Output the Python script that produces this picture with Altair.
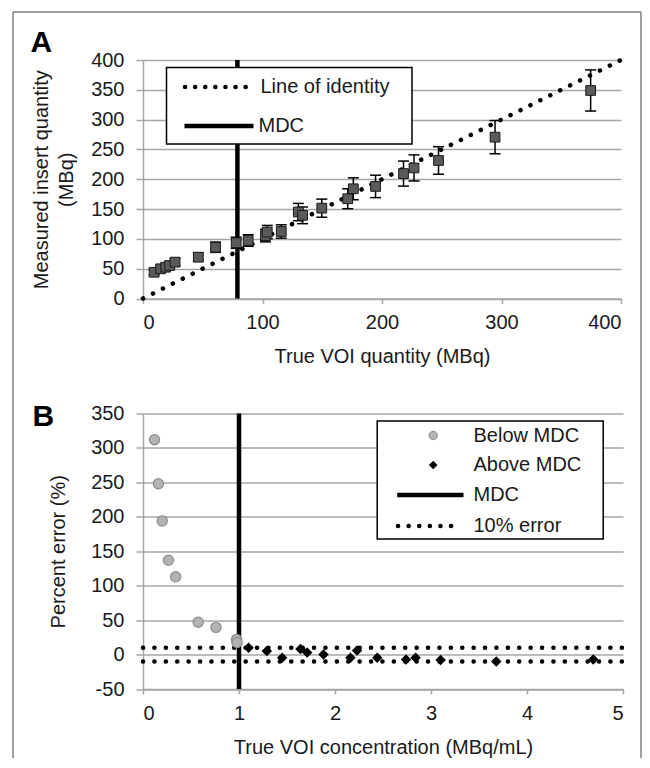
import altair as alt
import pandas as pd

# ---------------- Panel A data ----------------
a_true = [9.3, 14.8, 19.0, 22.3, 26.8, 46.3, 60.7, 78.0, 88.0, 102.5, 104.0, 115.7,
          130.0, 133.5, 149.6, 171.3, 176.0, 194.6, 218.0, 226.8, 247.3, 294.6, 374.6]
a_meas = [44, 49.8, 52.5, 55.4, 61, 69.3, 86, 93.5, 97.3, 105.5, 111.5, 112.4,
          145, 139.5, 151.5, 167.3, 184, 188, 209.5, 219, 231.5, 270.6, 348.9]
a_err = [4.4, 5, 5.2, 5.5, 6.1, 6.9, 8.6, 9.3, 9.7, 10.5, 11.1, 11.2,
         14.5, 14, 15.2, 16.7, 18.4, 18.8, 21, 21.9, 23.1, 27.9, 34.5]
identity_pts = [0, 400]
mdc_a = [79]
a_x_ticks = [0, 100, 200, 300, 400]
a_y_ticks = [0, 50, 100, 150, 200, 250, 300, 350, 400]

# ---------------- Panel B data ----------------
below_x = [0.12, 0.16, 0.20, 0.265, 0.34, 0.575, 0.76, 0.975, 0.98]
below_y = [312, 248, 194, 137, 113, 47, 39.5, 22, 17.5]
above_x = [1.10, 1.29, 1.45, 1.64, 1.71, 1.88, 2.16, 2.23, 2.44, 2.74, 2.84, 3.10, 3.68, 4.69]
above_y = [10, 5, -4.5, 8, 3, 0, -4.5, 6, -4.5, -7, -4.5, -8, -10, -7]
mdc_b = [1]
err_lines = [10, -10]
b_x_ticks = [0, 1, 2, 3, 4, 5]
b_y_ticks = [-50, 0, 50, 100, 150, 200, 250, 300, 350]

FONT = "Liberation Sans"
FS = 20
GRID = "#a6a6a6"
WA, HA = 478, 238.5
WB, HB = 480, 275.5
LBL = "'' + datum.value"

one = pd.DataFrame({"d": [0]})

# ================= Panel A =================
scAx = alt.Scale(domain=[0, 400], nice=False)
scAy = alt.Scale(domain=[0, 400], nice=False)
axAx = alt.Axis(values=a_x_ticks, grid=False, labelExpr=LBL,
                title="True VOI quantity (MBq)", titlePadding=14)
axAy = alt.Axis(values=a_y_ticks, grid=True, labelExpr=LBL,
                title=["Measured insert quantity", "(MBq)"],
                titleLineHeight=25, titlePadding=14)


def XA(f):
    return alt.X(f, scale=scAx, axis=axAx)


def YA(f):
    return alt.Y(f, scale=scAy, axis=axAy)


ident_df = pd.DataFrame({"x": identity_pts, "y": identity_pts})
identity = alt.Chart(ident_df).mark_line(
    color="black", strokeWidth=4.5, strokeDash=[0.1, 11], strokeCap="round"
).encode(x=XA("x:Q"), y=YA("y:Q"))

mdcA = alt.Chart(pd.DataFrame({"x": mdc_a})).mark_rule(
    color="black", strokeWidth=4.5).encode(x=XA("x:Q"))

a_df = pd.DataFrame({"x": a_true, "y": a_meas, "e": a_err})
a_df["lo"] = a_df["y"] - a_df["e"]
a_df["hi"] = a_df["y"] + a_df["e"]
a_df["c1"] = a_df["x"] - 4.6
a_df["c2"] = a_df["x"] + 4.6

ebar = alt.Chart(a_df).mark_rule(color="black", strokeWidth=1.5).encode(
    x=XA("x:Q"), y=YA("lo:Q"), y2="hi:Q")
cap_lo = alt.Chart(a_df).mark_rule(color="black", strokeWidth=1.5).encode(
    x=XA("c1:Q"), x2="c2:Q", y=YA("lo:Q"))
cap_hi = alt.Chart(a_df).mark_rule(color="black", strokeWidth=1.5).encode(
    x=XA("c1:Q"), x2="c2:Q", y=YA("hi:Q"))

squares = alt.Chart(a_df).mark_square(
    size=95, color="#5a5a5a", stroke="#1a1a1a", strokeWidth=1, opacity=1
).encode(x=XA("x:Q"), y=YA("y:Q"))

# legend A
legA_box = alt.Chart(one).mark_rect(fill="white", stroke="black", strokeWidth=1.5).encode(
    x=alt.value(23.5), x2=alt.value(269), y=alt.value(7.5), y2=alt.value(84))
legA_dot = alt.Chart(one).mark_rule(color="black", strokeWidth=4.5, strokeDash=[0.1, 10],
                                    strokeCap="round").encode(
    x=alt.value(42), x2=alt.value(103), y=alt.value(27), y2=alt.value(27))
legA_line = alt.Chart(one).mark_rule(color="black", strokeWidth=4.5).encode(
    x=alt.value(41.5), x2=alt.value(110.5), y=alt.value(66), y2=alt.value(66))
legA_t1 = alt.Chart(one).mark_text(align="left", baseline="middle", font=FONT, fontSize=FS,
                                   color="#1a1a1a", text="Line of identity").encode(
    x=alt.value(117.5), y=alt.value(27))
legA_t2 = alt.Chart(one).mark_text(align="left", baseline="middle", font=FONT, fontSize=FS,
                                   color="#1a1a1a", text="MDC").encode(
    x=alt.value(115.5), y=alt.value(66))

labA = alt.Chart(one).mark_text(align="left", baseline="alphabetic", font=FONT, fontSize=30,
                                fontWeight="bold", color="black", text="A").encode(
    x=alt.value(-112.5), y=alt.value(-8))

# outer frame (left, top, right edges)
FR_L, FR_R, FR_T, FR_B = -130, 498, -48, 698
fr_style = dict(color="#808080", strokeWidth=1.5)
frame_l = alt.Chart(one).mark_rule(**fr_style).encode(
    x=alt.value(FR_L), y=alt.value(FR_T), y2=alt.value(FR_B))
frame_r = alt.Chart(one).mark_rule(**fr_style).encode(
    x=alt.value(FR_R), y=alt.value(FR_T), y2=alt.value(FR_B))
frame_t = alt.Chart(one).mark_rule(**fr_style).encode(
    x=alt.value(FR_L), x2=alt.value(FR_R), y=alt.value(FR_T))

panelA = alt.layer(
    frame_l, frame_r, frame_t, identity, mdcA, ebar, cap_lo, cap_hi, squares,
    legA_box, legA_dot, legA_line, legA_t1, legA_t2, labA
).properties(width=WA, height=HA)

# ================= Panel B =================
scBx = alt.Scale(domain=[0, 5], nice=False)
scBy = alt.Scale(domain=[-50, 350], nice=False)
axBx = alt.Axis(values=b_x_ticks, grid=False, labelExpr=LBL,
                title="True VOI concentration (MBq/mL)", titlePadding=14)
axBy = alt.Axis(values=b_y_ticks, grid=True, labelExpr=LBL,
                title="Percent error (%)", titlePadding=22)


def XB(f):
    return alt.X(f, scale=scBx, axis=axBx)


def YB(f):
    return alt.Y(f, scale=scBy, axis=axBy)


err_df = pd.DataFrame({
    "x": [b_x_ticks[0], b_x_ticks[-1], b_x_ticks[0], b_x_ticks[-1]],
    "y": [err_lines[0], err_lines[0], err_lines[1], err_lines[1]],
    "g": ["p", "p", "m", "m"],
})
errl = alt.Chart(err_df).mark_line(
    color="black", strokeWidth=4.5, strokeDash=[0.1, 11.3], strokeCap="round"
).encode(x=XB("x:Q"), y=YB("y:Q"), detail="g:N")

mdcB = alt.Chart(pd.DataFrame({"x": mdc_b})).mark_rule(
    color="black", strokeWidth=4.5).encode(x=XB("x:Q"))

below = alt.Chart(pd.DataFrame({"x": below_x, "y": below_y})).mark_circle(
    size=105, color="#b3b3b3", stroke="#8c8c8c", strokeWidth=1.2, opacity=1
).encode(x=XB("x:Q"), y=YB("y:Q"))

above = alt.Chart(pd.DataFrame({"x": above_x, "y": above_y})).mark_point(
    shape="diamond", size=110, filled=True, color="black", opacity=1
).encode(x=XB("x:Q"), y=YB("y:Q"))

legB_box = alt.Chart(one).mark_rect(fill="white", stroke="black", strokeWidth=1.5).encode(
    x=alt.value(234.2), x2=alt.value(460.2), y=alt.value(7.5), y2=alt.value(125.5))
legB_c = alt.Chart(one).mark_point(shape="circle", size=70, filled=True, color="#b3b3b3",
                                   stroke="#8c8c8c", strokeWidth=1, opacity=1).encode(
    x=alt.value(290.2), y=alt.value(22))
legB_d = alt.Chart(one).mark_point(shape="diamond", size=75, filled=True, color="black",
                                   opacity=1).encode(
    x=alt.value(290.2), y=alt.value(51.5))
legB_line = alt.Chart(one).mark_rule(color="black", strokeWidth=4.5).encode(
    x=alt.value(254.2), x2=alt.value(320.5), y=alt.value(81.5), y2=alt.value(81.5))
legB_dot = alt.Chart(one).mark_rule(color="black", strokeWidth=4.5, strokeDash=[0.1, 10.5],
                                    strokeCap="round").encode(
    x=alt.value(255), x2=alt.value(318), y=alt.value(112.5), y2=alt.value(112.5))
legB_texts = [
    ("Below MDC", 22), ("Above MDC", 51.5), ("MDC", 81.5), ("10% error", 112.5)
]
legB_t = [
    alt.Chart(one).mark_text(align="left", baseline="middle", font=FONT, fontSize=FS,
                             color="#1a1a1a", text=t).encode(
        x=alt.value(330.5), y=alt.value(yy))
    for t, yy in legB_texts
]

labB = alt.Chart(one).mark_text(align="left", baseline="alphabetic", font=FONT, fontSize=30,
                                fontWeight="bold", color="black", text="B").encode(
    x=alt.value(-110.5), y=alt.value(12.5))

panelB = alt.layer(
    errl, mdcB, below, above, legB_box, legB_c, legB_d, legB_line, legB_dot, *legB_t, labB
).properties(width=WB, height=HB)

chart = alt.vconcat(panelA, panelB, spacing=114.5, bounds="flush").properties(
    padding={"left": 4, "top": 3, "right": 0, "bottom": 0}
).configure_view(stroke=None).configure_axis(
    labelFont=FONT, labelFontSize=FS, labelColor="#1a1a1a",
    titleFont=FONT, titleFontSize=FS, titleFontWeight="normal", titleColor="#1a1a1a",
    gridColor=GRID, gridWidth=1.5, domainColor=GRID, domainWidth=1.5,
    tickColor=GRID, tickWidth=1.5,
).configure_axisX(tickSize=5, labelPadding=9).configure_axisY(tickSize=7, labelPadding=12)

chart.save("out.html", embed_options={"renderer": "svg", "actions": False})
